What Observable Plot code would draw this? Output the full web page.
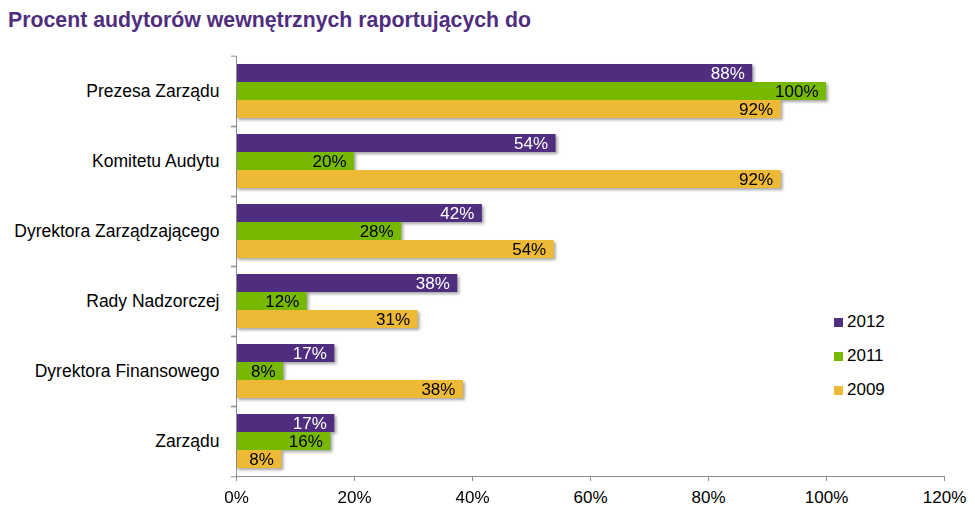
<!DOCTYPE html>
<html>
<head>
<meta charset="utf-8">
<script src="https://cdn.jsdelivr.net/npm/d3@7"></script>
<script src="https://cdn.jsdelivr.net/npm/@observablehq/plot@0.6"></script>
<style>
  html, body { margin: 0; padding: 0; background: #fff; }
  #wrap { position: relative; width: 975px; height: 510px; font-family: "Liberation Sans", Arial, sans-serif; }
  #title { position: absolute; left: 8px; top: 7px; font-size: 21.3px; line-height: 26px; font-weight: bold; color: #4F2D7F; white-space: nowrap; }
  #legend { position: absolute; left: 834px; top: 305px; font-size: 17px; color: #000; }
  #legend .row { display: flex; align-items: center; height: 34px; }
  #legend .sw { width: 9px; height: 9px; margin-right: 4px; }
  #chart { position: absolute; left: 0; top: 0; }
</style>
</head>
<body>
<div id="wrap">
  <div id="chart"></div>
  <div id="title"></div>
  <div id="legend"></div>
</div>
<script>
const titleText = "Procent audytorów wewnętrznych raportujących do";
const categories = ["Prezesa Zarządu", "Komitetu Audytu", "Dyrektora Zarządzającego", "Rady Nadzorczej", "Dyrektora Finansowego", "Zarządu"];
const series = ["2012", "2011", "2009"];
const values2012 = [0.875, 0.5417, 0.4167, 0.375, 0.1667, 0.1667];
const values2011 = [1.00, 0.20, 0.28, 0.12, 0.08, 0.16];
const values2009 = [0.9231, 0.9231, 0.5385, 0.3077, 0.3846, 0.0769];
const colors = ["#4F2D7F", "#77B800", "#EEB935"];
const xTicks = [0, 0.2, 0.4, 0.6, 0.8, 1.0, 1.2];

const seriesValues = [values2012, values2011, values2009];
const data = [];
categories.forEach((c, i) => {
  series.forEach((s, j) => data.push({category: c, series: s, value: seriesValues[j][i]}));
});
const fmt = d3.format(".0%");

const W = 975, H = 510, mt = 54, mb = 32, ml = 236, mr = 31;
const step = (H - mt - mb) / categories.length;

const plot = Plot.plot({
  width: W, height: H,
  marginTop: mt, marginBottom: mb, marginLeft: ml, marginRight: mr,
  style: {fontFamily: "'Liberation Sans', Arial, sans-serif", fontSize: "17px", color: "#000", background: "transparent", overflow: "visible"},
  x: {domain: [0, 1.2]},
  fy: {domain: categories, padding: 0, label: null},
  y: {domain: series, paddingInner: 0, paddingOuter: 0.44, axis: null},
  color: {domain: series, range: colors},
  marks: [
    Plot.barX(data, {x: "value", y: "series", fy: "category", fill: "series"}),
    Plot.text(data, {filter: d => d.series === series[0], x: "value", y: "series", fy: "category", text: d => fmt(d.value), textAnchor: "end", dx: -8, fill: "white", fontSize: 17}),
    Plot.text(data, {filter: d => d.series !== series[0], x: "value", y: "series", fy: "category", text: d => fmt(d.value), textAnchor: "end", dx: -8, fill: "black", fontSize: 17}),
    Plot.ruleX([0], {stroke: "#8c8c8c"}),
    Plot.frame({anchor: "bottom", facetAnchor: "bottom", stroke: "#8c8c8c"}),
    Plot.axisX({ticks: xTicks, tickFormat: fmt, tickSize: 5, tickPadding: 9, stroke: "#8c8c8c", fill: "#000", label: null, fontSize: 17}),
    Plot.axisFy({anchor: "left", tickSize: 0, tickPadding: 17, label: null, fill: "#000", fontSize: 17.5}),
    Plot.axisFy({anchor: "left", tickSize: 5, text: null, label: null, dy: -step / 2, stroke: "#8c8c8c"}),
    Plot.axisFy({anchor: "left", tickSize: 5, text: null, label: null, dy: step / 2, stroke: "#8c8c8c"})
  ]
});
document.getElementById("chart").appendChild(plot);
plot.querySelectorAll('g[aria-label="bar"]').forEach(g => {
  g.style.filter = "drop-shadow(2px 2px 1.5px rgba(0,0,0,0.35))";
});

document.getElementById("title").textContent = titleText;
const legend = d3.select("#legend");
series.forEach((s, i) => {
  const row = legend.append("div").attr("class", "row");
  row.append("div").attr("class", "sw").style("background", colors[i]);
  row.append("span").text(s);
});
</script>
</body>
</html>
